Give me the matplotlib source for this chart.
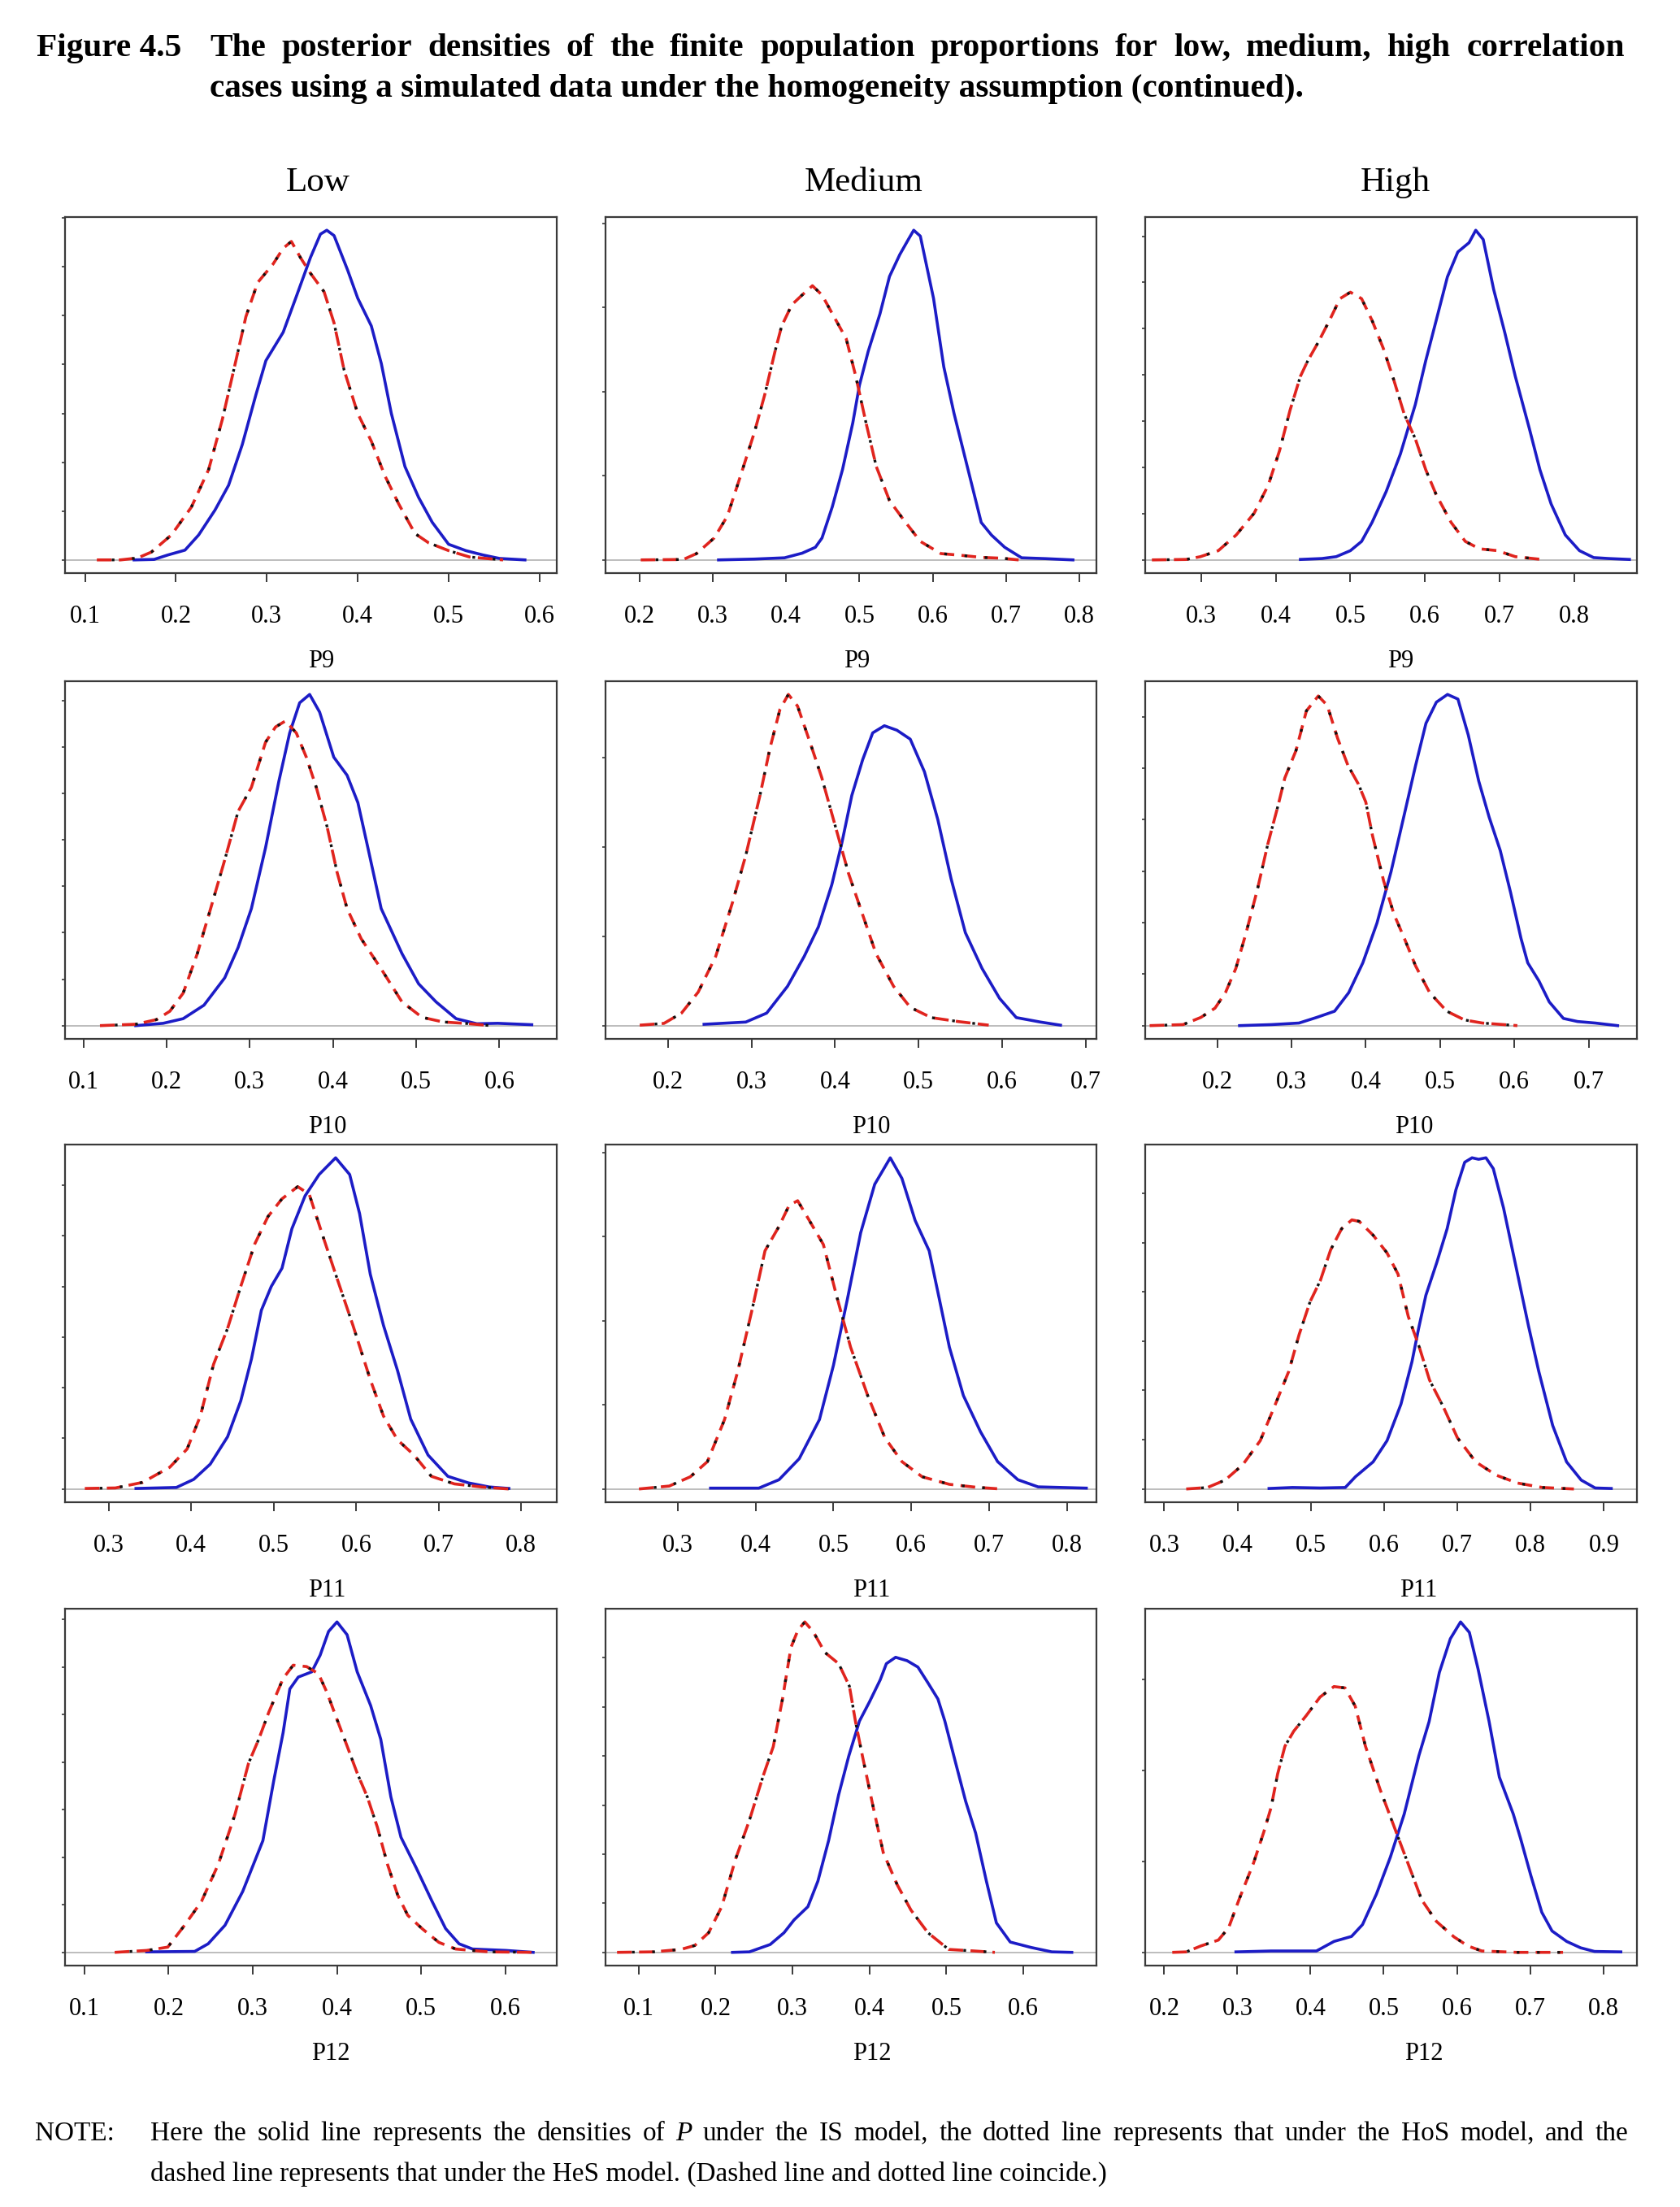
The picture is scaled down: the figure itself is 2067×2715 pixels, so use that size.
import matplotlib.pyplot as plt
from matplotlib.ticker import MultipleLocator

plt.rcParams["font.family"] = ["Liberation Serif", "DejaVu Serif"]

W, H, DPI = 2067, 2715, 100

# ---- posterior density curves ----
# "is" = IS model (solid blue), "hs" = HoS / HeS models (dotted + dashed, they coincide)

# P9
p9_low_is_x = [0.154, 0.176, 0.191, 0.210, 0.225, 0.243, 0.258, 0.273, 0.288, 0.299, 0.318, 0.333, 0.348, 0.359, 0.366,
               0.374, 0.389, 0.400, 0.415, 0.426, 0.437, 0.452, 0.467, 0.482, 0.500, 0.519, 0.538, 0.556, 0.584]
p9_low_is_y = [0.0, 0.01, 0.1, 0.2, 0.51, 1.02, 1.53, 2.36, 3.38, 4.08, 4.66, 5.42, 6.19, 6.67, 6.75,
               6.64, 5.93, 5.36, 4.79, 4.02, 3.0, 1.91, 1.28, 0.77, 0.32, 0.19, 0.1, 0.03, 0.0]
p9_low_hs_x = [0.113, 0.139, 0.158, 0.173, 0.195, 0.217, 0.236, 0.251, 0.266, 0.277, 0.290, 0.307, 0.318, 0.327, 0.337,
               0.348, 0.363, 0.374, 0.385, 0.400, 0.415, 0.430, 0.445, 0.463, 0.478, 0.500, 0.523, 0.541, 0.560]
p9_low_hs_y = [0.0, 0.0, 0.04, 0.16, 0.51, 1.08, 1.85, 2.87, 4.08, 4.98, 5.68, 6.06, 6.38, 6.52, 6.19,
               5.87, 5.49, 4.85, 3.89, 3.0, 2.43, 1.72, 1.15, 0.54, 0.35, 0.19, 0.06, 0.03, 0.0]

p9_med_is_x = [0.308, 0.357, 0.398, 0.422, 0.440, 0.449, 0.463, 0.477, 0.491, 0.500, 0.512, 0.528, 0.541, 0.555,
               0.567, 0.574, 0.583, 0.601, 0.615, 0.629, 0.648, 0.666, 0.680, 0.698, 0.721, 0.754, 0.791]
p9_med_is_y = [0.0, 0.02, 0.05, 0.16, 0.30, 0.52, 1.26, 2.15, 3.26, 4.15, 4.96, 5.85, 6.74, 7.26,
               7.63, 7.84, 7.70, 6.22, 4.59, 3.48, 2.15, 0.89, 0.59, 0.30, 0.05, 0.03, 0.0]
p9_med_hs_x = [0.202, 0.260, 0.278, 0.302, 0.320, 0.338, 0.357, 0.371, 0.385, 0.394, 0.408, 0.422, 0.436, 0.449,
               0.468, 0.482, 0.495, 0.509, 0.523, 0.541, 0.560, 0.583, 0.611, 0.638, 0.666, 0.694, 0.717]
p9_med_hs_y = [0.0, 0.01, 0.15, 0.52, 1.04, 2.0, 3.04, 3.93, 4.96, 5.56, 6.07, 6.30, 6.52, 6.30,
               5.70, 5.26, 4.37, 3.26, 2.22, 1.41, 0.96, 0.44, 0.15, 0.11, 0.06, 0.04, 0.0]

p9_high_is_x = [0.433, 0.462, 0.481, 0.500, 0.515, 0.529, 0.548, 0.567, 0.587, 0.601, 0.615, 0.630, 0.644, 0.659,
                0.668, 0.678, 0.692, 0.707, 0.721, 0.740, 0.754, 0.769, 0.788, 0.807, 0.826, 0.846, 0.874]
p9_high_is_y = [0.01, 0.03, 0.07, 0.2, 0.40, 0.81, 1.48, 2.29, 3.36, 4.31, 5.18, 6.12, 6.66, 6.86,
                7.13, 6.93, 5.85, 4.91, 3.97, 2.83, 1.95, 1.21, 0.54, 0.20, 0.05, 0.03, 0.01]
p9_high_hs_x = [0.234, 0.280, 0.299, 0.323, 0.347, 0.371, 0.390, 0.405, 0.419, 0.433, 0.443, 0.457, 0.472, 0.486, 0.500,
                0.515, 0.529, 0.544, 0.558, 0.572, 0.587, 0.601, 0.615, 0.635, 0.654, 0.673, 0.697, 0.721, 0.762]
p9_high_hs_y = [0.0, 0.01, 0.07, 0.2, 0.54, 1.01, 1.62, 2.36, 3.23, 3.97, 4.31, 4.71, 5.18, 5.65, 5.79,
                5.65, 5.18, 4.58, 3.90, 3.16, 2.62, 1.95, 1.41, 0.81, 0.40, 0.24, 0.20, 0.07, 0.0]

# P10
p10_low_is_x = [0.163, 0.196, 0.220, 0.245, 0.270, 0.286, 0.302, 0.319, 0.335, 0.348, 0.360, 0.372, 0.384,
                0.401, 0.417, 0.430, 0.442, 0.458, 0.483, 0.503, 0.524, 0.548, 0.573, 0.598, 0.639]
p10_low_is_y = [0.0, 0.05, 0.15, 0.44, 1.03, 1.68, 2.52, 3.83, 5.26, 6.30, 6.95, 7.13, 6.75,
                5.78, 5.39, 4.80, 3.83, 2.52, 1.55, 0.90, 0.51, 0.15, 0.04, 0.05, 0.02]
p10_low_hs_x = [0.120, 0.163, 0.188, 0.204, 0.220, 0.237, 0.253, 0.270, 0.286, 0.302, 0.319, 0.331, 0.343,
                0.356, 0.368, 0.380, 0.393, 0.405, 0.417, 0.434, 0.458, 0.483, 0.507, 0.532, 0.565, 0.589]
p10_low_hs_y = [0.0, 0.03, 0.13, 0.31, 0.70, 1.55, 2.52, 3.57, 4.61, 5.13, 6.10, 6.43, 6.56,
                6.30, 5.78, 5.13, 4.28, 3.30, 2.52, 1.87, 1.22, 0.51, 0.18, 0.08, 0.04, 0.0]

p10_med_is_x = [0.243, 0.293, 0.318, 0.343, 0.363, 0.380, 0.396, 0.408, 0.420, 0.433, 0.445, 0.459,
                0.474, 0.490, 0.507, 0.523, 0.539, 0.556, 0.576, 0.597, 0.617, 0.646, 0.670]
p10_med_is_y = [0.03, 0.08, 0.28, 0.88, 1.55, 2.21, 3.15, 4.08, 5.15, 5.95, 6.55, 6.71,
                6.61, 6.41, 5.68, 4.61, 3.28, 2.08, 1.28, 0.61, 0.18, 0.08, 0.01]
p10_med_hs_x = [0.166, 0.195, 0.216, 0.236, 0.257, 0.277, 0.293, 0.310, 0.322, 0.334, 0.344, 0.355,
                0.371, 0.384, 0.400, 0.416, 0.433, 0.449, 0.470, 0.490, 0.515, 0.548, 0.584]
p10_med_hs_y = [0.01, 0.05, 0.28, 0.75, 1.55, 2.75, 3.81, 5.15, 6.21, 7.08, 7.41, 7.15,
                6.28, 5.55, 4.48, 3.41, 2.48, 1.61, 0.88, 0.41, 0.18, 0.09, 0.01]

p10_high_is_x = [0.230, 0.273, 0.310, 0.334, 0.358, 0.377, 0.396, 0.415, 0.434, 0.452, 0.467, 0.481, 0.495, 0.510,
                 0.524, 0.538, 0.552, 0.566, 0.581, 0.595, 0.609, 0.618, 0.633, 0.647, 0.666, 0.685, 0.709, 0.739]
p10_high_is_y = [0.0, 0.02, 0.05, 0.16, 0.28, 0.64, 1.22, 1.99, 2.99, 4.11, 5.05, 5.87, 6.28, 6.43,
                 6.34, 5.64, 4.75, 4.05, 3.40, 2.58, 1.69, 1.22, 0.87, 0.46, 0.14, 0.08, 0.05, 0.0]
p10_high_hs_x = [0.109, 0.154, 0.178, 0.197, 0.211, 0.225, 0.239, 0.254, 0.268, 0.282, 0.291, 0.306, 0.320, 0.336, 0.348,
                 0.362, 0.376, 0.390, 0.400, 0.409, 0.424, 0.438, 0.452, 0.467, 0.486, 0.509, 0.533, 0.557, 0.604]
p10_high_hs_y = [0.0, 0.02, 0.16, 0.34, 0.64, 1.11, 1.81, 2.64, 3.52, 4.28, 4.81, 5.34, 6.11, 6.40, 6.22,
                 5.58, 5.05, 4.69, 4.34, 3.69, 2.81, 2.16, 1.69, 1.16, 0.64, 0.28, 0.11, 0.05, 0.0]

# P11
p11_low_is_x = [0.333, 0.382, 0.403, 0.423, 0.444, 0.460, 0.473, 0.485, 0.497, 0.510, 0.522, 0.538, 0.555,
                0.575, 0.592, 0.604, 0.617, 0.633, 0.650, 0.666, 0.687, 0.711, 0.736, 0.761, 0.785]
p11_low_is_y = [0.01, 0.03, 0.19, 0.49, 1.03, 1.74, 2.57, 3.53, 4.0, 4.36, 5.14, 5.79, 6.21,
                6.54, 6.21, 5.44, 4.24, 3.23, 2.34, 1.38, 0.67, 0.25, 0.12, 0.04, 0.01]
p11_low_hs_x = [0.271, 0.308, 0.341, 0.374, 0.395, 0.411, 0.427, 0.444, 0.460, 0.477, 0.493, 0.510, 0.529,
                0.543, 0.559, 0.575, 0.596, 0.617, 0.633, 0.650, 0.670, 0.691, 0.719, 0.752, 0.785]
p11_low_hs_y = [0.01, 0.02, 0.13, 0.43, 0.79, 1.44, 2.46, 3.17, 4.0, 4.84, 5.38, 5.73, 5.97,
                5.82, 5.02, 4.24, 3.23, 2.16, 1.44, 0.97, 0.67, 0.25, 0.10, 0.04, 0.0]

p11_med_is_x = [0.342, 0.404, 0.430, 0.456, 0.482, 0.500, 0.518, 0.535, 0.553, 0.573, 0.588,
                0.605, 0.623, 0.636, 0.649, 0.667, 0.689, 0.711, 0.737, 0.763, 0.825]
p11_med_is_y = [0.02, 0.02, 0.22, 0.72, 1.65, 2.94, 4.52, 6.09, 7.24, 7.87, 7.38,
                6.38, 5.66, 4.52, 3.37, 2.22, 1.36, 0.65, 0.22, 0.05, 0.02]
p11_med_hs_x = [0.250, 0.289, 0.316, 0.338, 0.360, 0.377, 0.395, 0.412, 0.430, 0.443, 0.454,
                0.469, 0.487, 0.504, 0.522, 0.544, 0.566, 0.588, 0.614, 0.649, 0.684, 0.715]
p11_med_hs_y = [0.0, 0.07, 0.29, 0.65, 1.65, 2.80, 4.23, 5.66, 6.24, 6.74, 6.85,
                6.38, 5.81, 4.59, 3.37, 2.22, 1.22, 0.65, 0.29, 0.11, 0.04, 0.0]

p11_high_is_x = [0.443, 0.475, 0.513, 0.547, 0.561, 0.585, 0.604, 0.623, 0.638, 0.647, 0.657, 0.672,
                 0.686, 0.698, 0.710, 0.720, 0.729, 0.739, 0.749, 0.763, 0.777, 0.797, 0.811, 0.830,
                 0.849, 0.869, 0.888, 0.910]
p11_high_is_y = [0.01, 0.03, 0.02, 0.03, 0.25, 0.55, 0.98, 1.72, 2.58, 3.25, 3.93, 4.60,
                 5.28, 6.07, 6.63, 6.72, 6.69, 6.72, 6.50, 5.70, 4.72, 3.31, 2.39, 1.29,
                 0.55, 0.18, 0.02, 0.01]
p11_high_hs_x = [0.330, 0.359, 0.383, 0.407, 0.431, 0.450, 0.470, 0.484, 0.499, 0.513, 0.527, 0.542, 0.556, 0.566,
                 0.585, 0.604, 0.619, 0.633, 0.648, 0.662, 0.681, 0.700, 0.725, 0.753, 0.782, 0.816, 0.859]
p11_high_hs_y = [0.0, 0.03, 0.18, 0.49, 0.98, 1.66, 2.39, 3.13, 3.80, 4.23, 4.85, 5.28, 5.46, 5.43,
                 5.15, 4.79, 4.36, 3.50, 2.88, 2.21, 1.66, 1.04, 0.55, 0.28, 0.12, 0.03, 0.0]

# P12
p12_low_is_x = [0.174, 0.231, 0.247, 0.267, 0.288, 0.312, 0.325, 0.336, 0.344, 0.354, 0.370, 0.380, 0.390, 0.400,
                0.412, 0.424, 0.440, 0.452, 0.464, 0.476, 0.494, 0.513, 0.529, 0.545, 0.561, 0.601, 0.633]
p12_low_is_y = [0.01, 0.02, 0.18, 0.57, 1.28, 2.35, 3.62, 4.62, 5.54, 5.79, 5.90, 6.25, 6.75, 6.95,
                6.68, 5.90, 5.19, 4.48, 3.27, 2.42, 1.78, 1.07, 0.50, 0.18, 0.07, 0.04, 0.0]
p12_low_hs_x = [0.136, 0.174, 0.199, 0.219, 0.239, 0.259, 0.279, 0.295, 0.307, 0.319, 0.336, 0.348, 0.364, 0.378,
                0.388, 0.400, 0.412, 0.424, 0.436, 0.448, 0.460, 0.472, 0.484, 0.501, 0.521, 0.541, 0.581, 0.633]
p12_low_hs_y = [0.0, 0.04, 0.11, 0.57, 1.07, 1.85, 2.91, 3.98, 4.48, 5.05, 5.76, 6.04, 6.01, 5.86,
                5.47, 4.90, 4.34, 3.77, 3.27, 2.63, 1.85, 1.21, 0.78, 0.50, 0.21, 0.07, 0.01, 0.0]

p12_med_is_x = [0.222, 0.244, 0.271, 0.289, 0.302, 0.320, 0.333, 0.347, 0.360, 0.373, 0.387, 0.400, 0.414, 0.422, 0.434,
                0.449, 0.463, 0.476, 0.489, 0.498, 0.512, 0.525, 0.538, 0.552, 0.565, 0.583, 0.610, 0.637, 0.663]
p12_med_is_y = [0.0, 0.01, 0.16, 0.40, 0.66, 0.93, 1.45, 2.28, 3.21, 3.99, 4.71, 5.10, 5.55, 5.88, 6.01,
                5.94, 5.81, 5.49, 5.16, 4.71, 3.86, 3.08, 2.43, 1.45, 0.60, 0.21, 0.10, 0.01, 0.0]
p12_med_hs_x = [0.072, 0.119, 0.155, 0.173, 0.191, 0.208, 0.226, 0.244, 0.262, 0.275, 0.287, 0.298, 0.307, 0.316,
                0.327, 0.342, 0.360, 0.374, 0.382, 0.391, 0.405, 0.418, 0.436, 0.454, 0.476, 0.503, 0.534, 0.563]
p12_med_hs_y = [0.0, 0.01, 0.06, 0.14, 0.40, 0.93, 1.90, 2.69, 3.60, 4.19, 5.16, 6.21, 6.56, 6.73,
                6.53, 6.11, 5.88, 5.42, 4.69, 3.99, 2.95, 2.03, 1.38, 0.86, 0.40, 0.06, 0.03, 0.0]

p12_high_is_x = [0.298, 0.346, 0.408, 0.432, 0.456, 0.471, 0.490, 0.509, 0.528, 0.548, 0.562, 0.576, 0.591, 0.605,
                 0.617, 0.629, 0.644, 0.658, 0.677, 0.687, 0.701, 0.716, 0.730, 0.750, 0.769, 0.788, 0.824]
p12_high_is_y = [0.01, 0.03, 0.03, 0.24, 0.35, 0.61, 1.28, 2.09, 3.04, 4.32, 5.07, 6.15, 6.89, 7.26,
                 7.03, 6.22, 5.07, 3.85, 3.04, 2.50, 1.69, 0.88, 0.47, 0.24, 0.10, 0.02, 0.01]
p12_high_hs_x = [0.211, 0.230, 0.250, 0.274, 0.288, 0.302, 0.322, 0.336, 0.346, 0.355, 0.365, 0.377, 0.394, 0.413,
                 0.432, 0.447, 0.461, 0.475, 0.495, 0.514, 0.533, 0.552, 0.572, 0.596, 0.615, 0.634, 0.682, 0.745]
p12_high_hs_y = [0.0, 0.01, 0.14, 0.27, 0.54, 1.15, 1.96, 2.64, 3.18, 3.92, 4.53, 4.86, 5.20, 5.61,
                 5.84, 5.81, 5.41, 4.53, 3.58, 2.77, 1.96, 1.15, 0.68, 0.34, 0.14, 0.03, 0.0, 0.0]

columns = ["Low", "Medium", "High"]
variables = ["P9", "P10", "P11", "P12"]

curves = {
    ("P9", "Low"): (p9_low_is_x, p9_low_is_y, p9_low_hs_x, p9_low_hs_y),
    ("P9", "Medium"): (p9_med_is_x, p9_med_is_y, p9_med_hs_x, p9_med_hs_y),
    ("P9", "High"): (p9_high_is_x, p9_high_is_y, p9_high_hs_x, p9_high_hs_y),
    ("P10", "Low"): (p10_low_is_x, p10_low_is_y, p10_low_hs_x, p10_low_hs_y),
    ("P10", "Medium"): (p10_med_is_x, p10_med_is_y, p10_med_hs_x, p10_med_hs_y),
    ("P10", "High"): (p10_high_is_x, p10_high_is_y, p10_high_hs_x, p10_high_hs_y),
    ("P11", "Low"): (p11_low_is_x, p11_low_is_y, p11_low_hs_x, p11_low_hs_y),
    ("P11", "Medium"): (p11_med_is_x, p11_med_is_y, p11_med_hs_x, p11_med_hs_y),
    ("P11", "High"): (p11_high_is_x, p11_high_is_y, p11_high_hs_x, p11_high_hs_y),
    ("P12", "Low"): (p12_low_is_x, p12_low_is_y, p12_low_hs_x, p12_low_hs_y),
    ("P12", "Medium"): (p12_med_is_x, p12_med_is_y, p12_med_hs_x, p12_med_hs_y),
    ("P12", "High"): (p12_high_is_x, p12_high_is_y, p12_high_hs_x, p12_high_hs_y),
}

x_ticks = {
    ("P9", "Low"): [0.1, 0.2, 0.3, 0.4, 0.5, 0.6],
    ("P9", "Medium"): [0.2, 0.3, 0.4, 0.5, 0.6, 0.7, 0.8],
    ("P9", "High"): [0.3, 0.4, 0.5, 0.6, 0.7, 0.8],
    ("P10", "Low"): [0.1, 0.2, 0.3, 0.4, 0.5, 0.6],
    ("P10", "Medium"): [0.2, 0.3, 0.4, 0.5, 0.6, 0.7],
    ("P10", "High"): [0.2, 0.3, 0.4, 0.5, 0.6, 0.7],
    ("P11", "Low"): [0.3, 0.4, 0.5, 0.6, 0.7, 0.8],
    ("P11", "Medium"): [0.3, 0.4, 0.5, 0.6, 0.7, 0.8],
    ("P11", "High"): [0.3, 0.4, 0.5, 0.6, 0.7, 0.8, 0.9],
    ("P12", "Low"): [0.1, 0.2, 0.3, 0.4, 0.5, 0.6],
    ("P12", "Medium"): [0.1, 0.2, 0.3, 0.4, 0.5, 0.6],
    ("P12", "High"): [0.2, 0.3, 0.4, 0.5, 0.6, 0.7, 0.8],
}

# axis ranges and y tick spacing of each panel
x_limits = {
    ("P9", "Low"): (0.078, 0.619), ("P9", "Medium"): (0.154, 0.823), ("P9", "High"): (0.225, 0.884),
    ("P10", "Low"): (0.078, 0.669), ("P10", "Medium"): (0.125, 0.713), ("P10", "High"): (0.103, 0.765),
    ("P11", "Low"): (0.247, 0.843), ("P11", "Medium"): (0.207, 0.838), ("P11", "High"): (0.274, 0.945),
    ("P12", "Low"): (0.077, 0.661), ("P12", "Medium"): (0.057, 0.695), ("P12", "High"): (0.174, 0.846),
}
y_steps = {
    ("P9", "Medium"): 2, ("P10", "Medium"): 2, ("P11", "Medium"): 2, ("P12", "High"): 2,
}

# panel boxes and axis-title centres in pixels
col_px = [(80, 685), (745, 1349), (1409, 2014)]
row_px = [(267, 705), (838, 1278), (1408, 1848), (1979, 2418)]
xlabel_px = [[395, 1054, 1723], [403, 1072, 1740], [402, 1072, 1745], [407, 1073, 1752]]
header_x = [391, 1063, 1717]

BLUE = "#1c1cc6"
RED = "#e0241e"
BOX = "#3a3a3a"

fig = plt.figure(figsize=(W / DPI, H / DPI), dpi=DPI)
fig.patch.set_facecolor("white")
renderer = fig.canvas.get_renderer()


def fy(y):
    return 1 - y / H


def text_width(s, size, **kw):
    t = fig.text(0, 0, s, size=size, **kw)
    w = t.get_window_extent(renderer).width
    t.remove()
    return w


def fit_size(s, width, **kw):
    return 20 * width / text_width(s, 20, **kw)


def justify(words, x0, x1, y, size, styles=None, **kw):
    items = []
    for i, w in enumerate(words):
        st = styles[i] if styles else "normal"
        t = fig.text(0, fy(y), w, size=size, style=st, va="center_baseline", ha="left", **kw)
        items.append((t, t.get_window_extent(renderer).width))
    gap = (x1 - x0 - sum(w for _, w in items)) / (len(items) - 1)
    x = x0
    for t, w in items:
        t.set_x(x / W)
        x += w + gap


for r, var in enumerate(variables):
    for c, col in enumerate(columns):
        key = (var, col)
        x0, x1 = col_px[c]
        y0, y1 = row_px[r]
        ax = fig.add_axes([x0 / W, fy(y1), (x1 - x0) / W, (y1 - y0) / H])
        is_x, is_y, hs_x, hs_y = curves[key]

        ax.axhline(0, color="#b8b8b8", lw=1.3, zorder=1)
        ax.plot(is_x, is_y, color=BLUE, lw=2.6, zorder=3, solid_joinstyle="round")
        # HeS (dashed red) with the coinciding HoS (dotted black) showing in the gaps
        ax.plot(hs_x, hs_y, color=RED, lw=2.6, ls=(0, (5, 2.5)), zorder=3.5)
        ax.plot(hs_x, hs_y, color="#111111", lw=2.4, ls=(2.0, (1.0, 6.5)), zorder=4)

        ymax = max(max(is_y), max(hs_y))
        ax.set_ylim(-0.04 * ymax, 1.04 * ymax)
        ax.set_xlim(*x_limits[key])
        ax.yaxis.set_major_locator(MultipleLocator(y_steps.get(key, 1)))
        ax.set_xticks(x_ticks[key])
        ax.set_xticklabels([f"{t:.1f}" for t in x_ticks[key]])
        ax.tick_params(axis="x", direction="out", length=8, width=1.4, color=BOX,
                       pad=20, labelsize=22)
        ax.tick_params(axis="y", direction="out", length=3, width=1.2, color=BOX, labelleft=False)
        for sp in ax.spines.values():
            sp.set_color(BOX)
            sp.set_linewidth(1.6)
        fig.text(xlabel_px[r][c] / W, fy(y1 + 105), var, ha="center",
                 va="center_baseline", size=22)

for c, col in enumerate(columns):
    fig.text(header_x[c] / W, fy(220), col, size=31, ha="center", va="center_baseline")

# title
title_1 = "The posterior densities of the finite population proportions for low, medium, high correlation"
title_2 = "cases using a simulated data under the homogeneity assumption (continued)."
tsize = fit_size(title_2, 1347, weight="bold")
fig.text(45 / W, fy(55), "Figure 4.5", size=tsize, weight="bold", va="center_baseline")
justify(title_1.split(), 258, 1999, 55, tsize, weight="bold")
fig.text(258 / W, fy(105), title_2, size=tsize, weight="bold", va="center_baseline")

# note
note_1 = "Here the solid line represents the densities of P under the IS model, the dotted line represents that under the HoS model, and the"
note_2 = "dashed line represents that under the HeS model. (Dashed line and dotted line coincide.)"
nsize = fit_size(note_2, 1175)
fig.text(43 / W, fy(2621), "NOTE:", size=nsize, va="center_baseline")
words = note_1.split()
styles = ["italic" if w == "P" else "normal" for w in words]
justify(words, 185, 2003, 2621, nsize, styles=styles)
fig.text(185 / W, fy(2671), note_2, size=nsize, va="center_baseline")

fig.savefig("out.png", dpi=DPI, facecolor="white")
